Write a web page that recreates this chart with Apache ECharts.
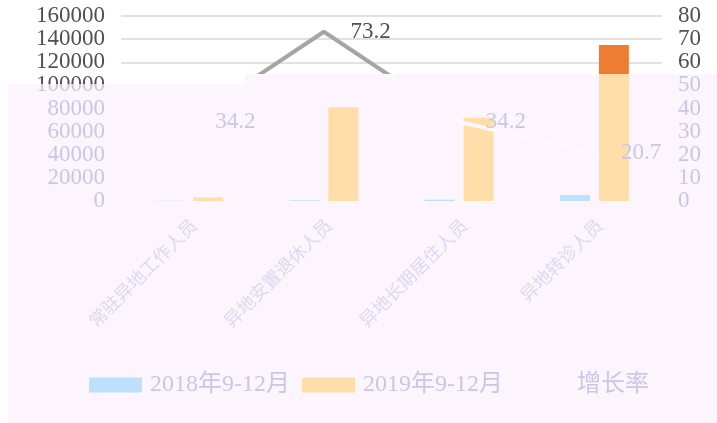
<!DOCTYPE html>
<html>
<head>
<meta charset="utf-8">
<title>chart</title>
<script src="https://cdn.jsdelivr.net/npm/echarts@6/dist/echarts.min.js"></script>
<style>
  html,body{margin:0;padding:0;background:#fff;}
  #main{width:717px;height:423px;}
</style>
</head>
<body>
<div id="main"></div>
<script>
// 数据
var categories = ['常驻异地工作人员', '异地安置退休人员', '异地长期居住人员', '异地转诊人员'];
var seriesNames = ['2018年9-12月', '2019年9-12月', '增长率'];
var data2018 = [200, 600, 1100, 5200];
var data2019 = [3000, 81000, 72000, 135000];
var rateData = [34.2, 73.2, 34.2, 20.7];

var FONT = "'Liberation Serif', 'Noto Sans CJK SC', serif";
var DARK = '#505050';
var FADE = '#c9c6e8';
var BG = '#fcf5fd';
var CUT = 74 / 423; // 遮罩上沿

// 上下两段颜色（遮罩之上 / 之下）
function splitColor(top, bottom){
    return {
        type: 'linear', x: 0, y: 0, x2: 0, y2: 423, global: true,
        colorStops: [
            {offset: 0, color: top},
            {offset: CUT, color: top},
            {offset: CUT + 0.0001, color: bottom},
            {offset: 1, color: bottom}
        ]
    };
}

var rateItems = rateData.map(function(v){
    return {value: v, label: {color: v > 60 ? DARK : FADE}};
});

var myChart = echarts.init(document.getElementById('main'));
var option = {
    backgroundColor: '#fff',
    animation: false,
    grid: {left: 121, right: 55, top: 16, bottom: 222},
    legend: {
        left: 84, top: 368,
        itemWidth: 53, itemHeight: 15, itemGap: 12,
        textStyle: {fontFamily: FONT, fontSize: 24, color: FADE, padding: [0, 0, 0, 3]},
        data: [
            {name: seriesNames[0], icon: 'rect', itemStyle: {color: '#bde0fe'}},
            {name: seriesNames[1], icon: 'rect', itemStyle: {color: '#ffdeaa'}},
            {name: seriesNames[2], itemStyle: {opacity: 0}, lineStyle: {opacity: 0}}
        ]
    },
    xAxis: {
        type: 'category',
        data: categories,
        axisLine: {show: false},
        axisTick: {show: false},
        axisLabel: {rotate: 45, margin: 16, verticalAlign: 'top', fontSize: 18, color: '#dcd8f2', fontFamily: FONT}
    },
    yAxis: [{
        type: 'value', min: 0, max: 160000, interval: 20000,
        axisLabel: {
            margin: 16, fontSize: 23, fontFamily: FONT,
            formatter: function(v){ return String(v); },
            color: function(v){ return v >= 100000 ? DARK : FADE; }
        },
        splitLine: {lineStyle: {width: 1.5, color: ['transparent', 'transparent', 'transparent', 'transparent', 'transparent', 'transparent', '#d9d9d9', '#d9d9d9', '#d9d9d9']}}
    }, {
        type: 'value', min: 0, max: 80, interval: 10,
        axisLabel: {
            margin: 16, fontSize: 23, fontFamily: FONT,
            color: function(v){ return v >= 60 ? DARK : FADE; }
        },
        splitLine: {show: false}
    }],
    series: [{
        name: seriesNames[0], type: 'bar', data: data2018,
        barGap: '30%', barCategoryGap: '49%',
        itemStyle: {color: '#bde0fe'}
    }, {
        name: seriesNames[1], type: 'bar', data: data2019,
        itemStyle: {color: splitColor('#ed7d31', '#ffdeaa')}
    }, {
        name: seriesNames[2], type: 'line', yAxisIndex: 1, data: rateItems,
        symbol: 'circle', symbolSize: 1, showSymbol: true, z: 5,
        itemStyle: {color: 'rgba(0,0,0,0)'},
        lineStyle: {width: 4, color: splitColor('#a5a5a5', '#fdf7fe')},
        label: {show: true, position: 'right', distance: 26, fontSize: 23, fontFamily: FONT}
    }],
    graphic: [{
        // 底部淡粉色区域
        type: 'polygon', z: -10, silent: true,
        shape: {points: [[8, 84], [245, 84], [245, 74], [717, 74], [717, 423], [8, 423]]},
        style: {fill: BG}
    }, {
        // 100000 标签下半部分
        type: 'rect', z: 100, silent: true,
        shape: {x: 8, y: 84, width: 108, height: 13},
        style: {fill: 'rgba(252,245,253,0.72)'}
    }]
};
myChart.setOption(option);
</script>
</body>
</html>
